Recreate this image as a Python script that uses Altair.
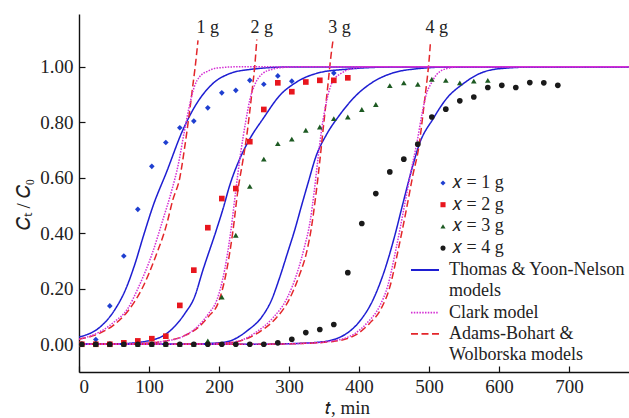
import altair as alt
import pandas as pd

# ---- measured breakthrough points: time (min) and C_t / C_0 ----
t_1g = [4, 24, 44, 64, 84, 104, 124, 144, 164, 184, 204, 224, 244, 264, 284, 304, 364]
c_1g = [0.000, 0.017, 0.138, 0.318, 0.486, 0.641, 0.727, 0.780, 0.804, 0.852,
        0.906, 0.915, 0.951, 0.937, 0.967, 0.948, 0.977]

t_2g = [4, 24, 44, 64, 84, 104, 124, 144, 164, 184, 204, 224, 244, 264, 284,
        304, 324, 344, 364, 384]
c_2g = [0.000, 0.000, 0.000, 0.005, 0.012, 0.020, 0.029, 0.140, 0.267, 0.420,
        0.525, 0.561, 0.730, 0.846, 0.942, 0.910, 0.945, 0.951, 0.951, 0.960]

t_3g = [4, 24, 44, 64, 84, 104, 124, 144, 164, 184, 204, 224, 244, 264, 284,
        304, 324, 344, 364, 384, 404, 424, 444, 464, 484, 504, 524, 544, 564, 584]
c_3g = [0.000, 0.000, 0.000, 0.000, 0.000, 0.000, 0.000, 0.000, 0.000, 0.012,
        0.170, 0.393, 0.569, 0.667, 0.723, 0.739, 0.771, 0.783, 0.813, 0.819,
        0.846, 0.864, 0.932, 0.942, 0.937, 0.955, 0.951, 0.942, 0.948, 0.951]

t_4g = [4, 24, 44, 64, 84, 104, 124, 144, 164, 184, 204, 224, 244, 264, 284,
        304, 324, 344, 364, 384, 404, 424, 444, 464, 484, 504, 524, 544, 564,
        584, 604, 624, 644, 664, 684]
c_4g = [0.000, 0.000, 0.000, 0.000, 0.000, 0.000, 0.000, 0.000, 0.000, 0.000,
        0.000, 0.000, 0.000, 0.000, 0.005, 0.018, 0.042, 0.053, 0.071, 0.258,
        0.435, 0.543, 0.621, 0.667, 0.721, 0.819, 0.847, 0.877, 0.891, 0.925,
        0.933, 0.925, 0.943, 0.942, 0.933]

# ---- fitted model curves, (t, C_t / C_0) ----
thomas_1g = [(0, 0.026), (30, 0.062), (50, 0.12), (67, 0.20), (80, 0.29), (92, 0.39),
             (106, 0.50), (125, 0.62), (148, 0.77), (168, 0.867), (191, 0.939),
             (215, 0.975), (244, 0.990), (300, 0.999), (785, 1.0)]
thomas_2g = [(0, 0.0), (60, 0.002), (100, 0.013), (125, 0.038), (151, 0.11), (165, 0.17),
             (177, 0.267), (196, 0.41), (206, 0.49), (215, 0.57), (230, 0.67),
             (244, 0.74), (263, 0.813), (287, 0.897), (311, 0.945), (344, 0.979),
             (382, 0.991), (450, 0.999), (785, 1.0)]
thomas_3g = [(0, 0.0), (150, 0.0), (200, 0.005), (218, 0.014), (241, 0.05), (261, 0.098),
             (275, 0.159), (287, 0.243), (298, 0.33), (308, 0.41), (318, 0.50),
             (327, 0.579), (339, 0.68), (353, 0.753), (372, 0.825), (396, 0.897),
             (420, 0.945), (449, 0.978), (480, 0.992), (530, 0.999), (785, 1.0)]
thomas_4g = [(0, 0.0), (250, 0.0), (300, 0.002), (345, 0.008), (380, 0.035), (400, 0.08),
             (420, 0.16), (437, 0.27), (452, 0.40), (462, 0.50), (477, 0.645),
             (486, 0.72), (506, 0.813), (525, 0.885), (549, 0.939), (572, 0.975),
             (601, 0.993), (650, 0.999), (785, 1.0)]

clark_1g = [(0, 0.018), (30, 0.045), (50, 0.08), (70, 0.13), (84, 0.20), (105, 0.33),
            (120, 0.45), (132, 0.55), (142, 0.65), (150, 0.76), (157, 0.85),
            (165, 0.93), (172, 0.963), (185, 0.985), (196, 0.995), (230, 1.0), (785, 1.0)]
clark_2g = [(0, 0.0), (80, 0.002), (120, 0.01), (150, 0.03), (170, 0.065), (185, 0.11),
            (197, 0.16), (208, 0.267), (217, 0.41), (224, 0.555), (231, 0.69),
            (238, 0.80), (244, 0.88), (252, 0.94), (262, 0.975), (275, 0.99),
            (295, 0.998), (330, 1.0), (785, 1.0)]
clark_3g = [(0, 0.0), (150, 0.0), (200, 0.003), (230, 0.013), (255, 0.047), (277, 0.095),
            (297, 0.165), (312, 0.26), (322, 0.35), (330, 0.44), (336, 0.55),
            (341, 0.66), (347, 0.78), (354, 0.88), (362, 0.945), (377, 0.98),
            (390, 0.993), (420, 1.0), (785, 1.0)]
clark_4g = [(0, 0.0), (250, 0.0), (320, 0.003), (360, 0.011), (393, 0.037), (412, 0.078),
            (429, 0.135), (441, 0.21), (453, 0.345), (465, 0.50), (474, 0.62),
            (483, 0.73), (490, 0.83), (496, 0.90), (502, 0.935), (511, 0.972),
            (525, 0.993), (545, 1.0), (785, 1.0)]

adams_1g = [(0, 0.018), (30, 0.04), (50, 0.07), (70, 0.12), (90, 0.20), (110, 0.32),
            (125, 0.43), (134, 0.52), (144, 0.60), (151, 0.71), (157, 0.82),
            (163, 0.94), (166, 1.0), (170, 1.095)]
adams_2g = [(0, 0.0), (80, 0.002), (120, 0.01), (150, 0.03), (170, 0.06), (185, 0.10),
            (199, 0.15), (211, 0.267), (220, 0.41), (227, 0.555), (234, 0.66),
            (239, 0.74), (244, 0.84), (248, 0.93), (251, 1.0), (254, 1.098)]
adams_3g = [(0, 0.0), (150, 0.0), (200, 0.003), (230, 0.012), (258, 0.045), (280, 0.09),
            (300, 0.16), (315, 0.25), (325, 0.33), (332, 0.42), (338, 0.53),
            (344, 0.66), (349, 0.78), (355, 0.92), (360, 1.04), (363, 1.098)]
adams_4g = [(0, 0.0), (250, 0.0), (320, 0.003), (363, 0.01), (396, 0.035), (415, 0.075),
            (432, 0.13), (444, 0.206), (456, 0.34), (468, 0.49), (477, 0.61),
            (486, 0.72), (490, 0.80), (494, 0.885), (498, 0.97), (500, 1.02),
            (502, 1.086)]

# legend rows of the model key (second lines carry no stroke)
model_rows = ["Thomas & Yoon-Nelson", "models", "Clark model",
              "Adams-Bohart &", "Wolborska models"]
model_colors = ["#1e1ed2", "rgba(0,0,0,0)", "#d42fd4", "#e3262a", "rgba(0,0,0,0)"]
model_dashes = [[1, 0], [1, 0], [1.5, 1.3], [7, 3.5], [1, 0]]

sample_names = ["𝑥 = 1 g", "𝑥 = 2 g", "𝑥 = 3 g", "𝑥 = 4 g"]
sample_colors = ["#1f3fd0", "#e8161e", "#1d5a22", "#1a1a1a"]
sample_shapes = ["diamond", "square", "triangle-up", "circle"]

# mass labels above the steep Adams-Bohart branches
ann_t = [184, 261, 372, 511]
ann_c = [1.14, 1.14, 1.14, 1.14]
ann_text = ["1 g", "2 g", "3 g", "4 g"]

# ---- tables ----
pts = []
for name, ts, cs in zip(sample_names, [t_1g, t_2g, t_3g, t_4g], [c_1g, c_2g, c_3g, c_4g]):
    for t, c in zip(ts, cs):
        pts.append({"t": t, "c": c, "sample": name})
pts_df = pd.DataFrame(pts)

curve_sets = [
    ("Thomas & Yoon-Nelson", [thomas_1g, thomas_2g, thomas_3g, thomas_4g]),
    ("Adams-Bohart &", [adams_1g, adams_2g, adams_3g, adams_4g]),
    ("Clark model", [clark_1g, clark_2g, clark_3g, clark_4g]),
]
rows = []
for model, curves in curve_sets:
    for i, curve in enumerate(curves):
        for t, c in curve:
            rows.append({"t": t, "c": c, "model": model, "curve": f"{model}-{i + 1}"})
curve_df = pd.DataFrame(rows)

ann_df = pd.DataFrame({"t": ann_t, "c": ann_c, "label": ann_text})

FONT = "Liberation Serif"
x_scale = alt.Scale(domain=[0, 785.7], nice=False, zero=False)
y_scale = alt.Scale(domain=[-0.1, 1.19], nice=False, zero=False)
x_ticks = [0, 100, 200, 300, 400, 500, 600, 700]
y_ticks = [0.0, 0.2, 0.4, 0.6, 0.8, 1.0]

x_axis = alt.Axis(values=x_ticks, title="𝑡, min", ticks=False, grid=False,
                  labelFont=FONT, labelFontSize=19, titleFont=FONT,
                  labelPadding=5, titleBaseline="middle", titleY=35, titleX=268)
y_axis = alt.Axis(values=y_ticks, format=".2f", title="𝐶ₜ / 𝐶₀", ticks=False, grid=False,
                  labelFont=FONT, labelFontSize=19, titleFont=FONT,
                  labelPadding=6, titleX=-46, titleY=190)

# model key: a short horizontal stroke per row
line_key = dict(orient="none", legendX=337, legendY=247, title=None,
                symbolType="M-5,0L5,0", symbolSize=31.4, symbolStrokeWidth=1.8,
                labelOffset=15, rowPadding=3.3, padding=0)
point_key = dict(orient="none", legendX=355, legendY=160, title=None,
                 symbolSize=26, labelOffset=0, rowPadding=3.7, padding=0)

curves_layer = alt.Chart(curve_df).mark_line(
    clip=True, strokeWidth=1.5, interpolate="monotone"
).encode(
    x=alt.X("t:Q", scale=x_scale, axis=x_axis),
    y=alt.Y("c:Q", scale=y_scale, axis=y_axis),
    color=alt.Color("model:N", scale=alt.Scale(domain=model_rows, range=model_colors),
                    legend=alt.Legend(**line_key)),
    strokeDash=alt.StrokeDash("model:N",
                              scale=alt.Scale(domain=model_rows, range=model_dashes),
                              legend=alt.Legend(**line_key)),
    detail="curve:N",
)

points_layer = alt.Chart(pts_df).mark_point(filled=True, opacity=1, size=32).encode(
    x=alt.X("t:Q", scale=x_scale, axis=None),
    y=alt.Y("c:Q", scale=y_scale, axis=None),
    color=alt.Color("sample:N", scale=alt.Scale(domain=sample_names, range=sample_colors),
                    legend=alt.Legend(**point_key)),
    shape=alt.Shape("sample:N", scale=alt.Scale(domain=sample_names, range=sample_shapes),
                    legend=alt.Legend(**point_key)),
)

# inward tick marks along both axes
tick_x_axis = alt.Axis(orient="top", offset=-358, values=x_ticks, labels=False, domain=False,
                       ticks=True, tickSize=6, grid=False, title=None)
tick_y_axis = alt.Axis(orient="right", offset=-550, values=y_ticks, labels=False,
                       domain=False, ticks=True, tickSize=6, grid=False, title=None)

labels_layer = alt.Chart(ann_df).mark_text(
    font=FONT, fontSize=18, color="#222222", baseline="middle", align="center"
).encode(
    x=alt.X("t:Q", scale=x_scale, axis=tick_x_axis),
    y=alt.Y("c:Q", scale=y_scale, axis=tick_y_axis),
    text="label:N",
)

chart = alt.layer(curves_layer, points_layer, labels_layer).resolve_scale(
    color="independent", shape="independent", strokeDash="independent"
).resolve_axis(
    x="independent", y="independent"
).properties(
    width=550, height=358,
    autosize=alt.AutoSizeParams(type="none"),
    padding={"left": 79, "top": 14, "right": 0, "bottom": 46},
).configure_view(
    stroke=None
).configure_axis(
    domainColor="#111111", domainWidth=1.4, tickColor="#111111", tickWidth=1.2,
    labelFont=FONT, labelFontSize=19, labelColor="#222222",
    titleFont=FONT, titleFontSize=19, titleFontWeight="normal", titleColor="#222222",
).configure_legend(
    labelFont=FONT, labelFontSize=18, labelColor="#222222", labelLimit=300,
)

chart.save("out.html", embed_options={"renderer": "svg", "actions": False})
